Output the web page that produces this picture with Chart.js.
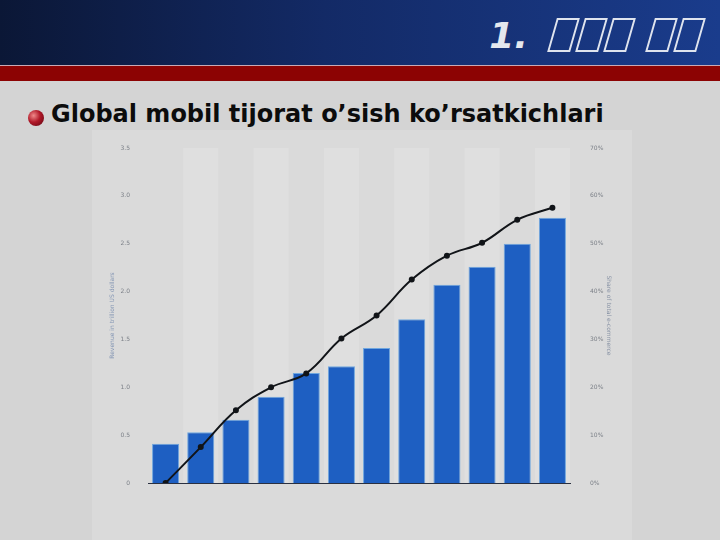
<!DOCTYPE html>
<html>
<head>
<meta charset="utf-8">
<script src="https://cdn.jsdelivr.net/npm/chart.js@4.4.0/dist/chart.umd.min.js"></script>
<style>
  html, body { margin: 0; padding: 0; }
  body { width: 720px; height: 540px; background: #d4d4d4; position: relative; overflow: hidden; font-family: "DejaVu Sans", sans-serif; }
  #header { position: absolute; left: 0; top: 0; width: 720px; height: 65px;
    background: linear-gradient(90deg, #0b1736 0%, #132a66 45%, #1a3c8c 100%); }
  #redband { position: absolute; left: 0; top: 65px; width: 720px; height: 16px;
    background: #8c0303; border-top: 1px solid #c9a9b4; box-sizing: border-box; }
  #hTitle { position: absolute; right: 14px; top: 14px; height: 42px; display: flex; align-items: center; }
  #hTitle .num { font: italic bold 36px "DejaVu Sans", sans-serif; color: #e4e8ee; margin-right: 24px; }
  #hTitle .box { display: inline-block; width: 19px; height: 30px; border: 2px solid #dfe4ee;
    transform: skewX(-16deg); margin-right: 5px; }
  #hTitle .gap { display: inline-block; width: 14px; }
  #subtitle { position: absolute; left: 51px; top: 100px; font: bold 24px "DejaVu Sans", sans-serif; color: #0c0c0c; }
  #bullet { position: absolute; left: 28px; top: 110px; width: 16px; height: 16px; border-radius: 50%;
    background: radial-gradient(circle at 35% 35%, #f08a8a 0%, #b01828 45%, #5a0410 100%); }
  #panel { position: absolute; left: 92px; top: 130px; width: 540px; height: 410px; background: #dadada; }
  #wrap { position: absolute; left: 90px; top: 130px; width: 550px; height: 410px; }
</style>
</head>
<body>
<div id="header"></div>
<div id="redband"></div>
<div id="hTitle"><span class="num">1.</span><span class="box"></span><span class="box"></span><span class="box"></span><span class="gap"></span><span class="box"></span><span class="box"></span></div>
<div id="bullet"></div>
<div id="subtitle">Global mobil tijorat o’sish ko’rsatkichlari</div>
<div id="panel"></div>
<div id="wrap"><canvas id="chart" width="550" height="410"></canvas></div>
<script>
// values
const years = ['2010', '2011', '2012', '2013', '2014', '2015', '2016', '2017', '2018', '2019', '2020', '2021'];
const salesValues = [0.41, 0.53, 0.66, 0.90, 1.15, 1.22, 1.41, 1.71, 2.07, 2.26, 2.50, 2.77];
const shareValues = [0, 7.5, 15.2, 20, 22.9, 30.2, 35, 42.5, 47.5, 50.2, 55, 57.5];
const leftTitle = 'Revenue in trillion US dollars';
const rightTitle = 'Share of total e-commerce';

// faint vertical bands behind every other category
const bandsPlugin = {
    id: 'bands',
    beforeDatasetsDraw(chart) {
        const ctx = chart.ctx, x = chart.scales.x, area = chart.chartArea;
        const w = x.width / years.length;
        ctx.save();
        ctx.fillStyle = 'rgba(234,234,234,0.3)';
        years.forEach((c, i) => {
            if (i % 2 === 1) ctx.fillRect(x.getPixelForValue(i) - w / 2, area.top, w, area.bottom - area.top);
        });
        ctx.restore();
    }
};

const tickFont = { family: 'DejaVu Sans', size: 6 };

new Chart(document.getElementById('chart'), {
    data: {
        labels: years,
        datasets: [
            {
                type: 'line',
                data: shareValues,
                yAxisID: 'y2',
                borderColor: '#111418',
                backgroundColor: '#111418',
                borderWidth: 2,
                pointRadius: 2,
                tension: 0.4,
                order: 0
            },
            {
                type: 'bar',
                data: salesValues,
                yAxisID: 'y',
                backgroundColor: '#1e5fc2',
                borderColor: '#6fa6de',
                borderWidth: 1,
                categoryPercentage: 1,
                barPercentage: 0.77,
                order: 1
            }
        ]
    },
    options: {
        responsive: false,
        animation: false,
        layout: { padding: { top: 18, bottom: 49 } },
        plugins: { legend: { display: false }, tooltip: { enabled: false } },
        scales: {
            x: {
                grid: { display: false },
                border: { display: true, color: '#2a3040', width: 1 },
                ticks: { display: false }
            },
            y: {
                position: 'left',
                min: 0, max: 3.5,
                afterFit(s) { s.width = 58; },
                grid: { display: false },
                border: { display: false },
                ticks: { stepSize: 0.5, color: '#7c8088', font: tickFont, padding: 10 },
                title: { display: true, text: leftTitle, color: '#8496b4', font: tickFont, padding: { top: 19, bottom: 0 } }
            },
            y2: {
                position: 'right',
                min: 0, max: 70,
                afterFit(s) { s.width = 70; },
                grid: { display: false },
                border: { display: false },
                ticks: { stepSize: 10, color: '#7c8088', font: tickFont, padding: 12, callback: v => v + '%' },
                title: { display: true, text: rightTitle, color: '#8a94a6', font: tickFont, padding: { top: 28, bottom: 0 } }
            }
        }
    },
    plugins: [bandsPlugin]
});
</script>
</body>
</html>
